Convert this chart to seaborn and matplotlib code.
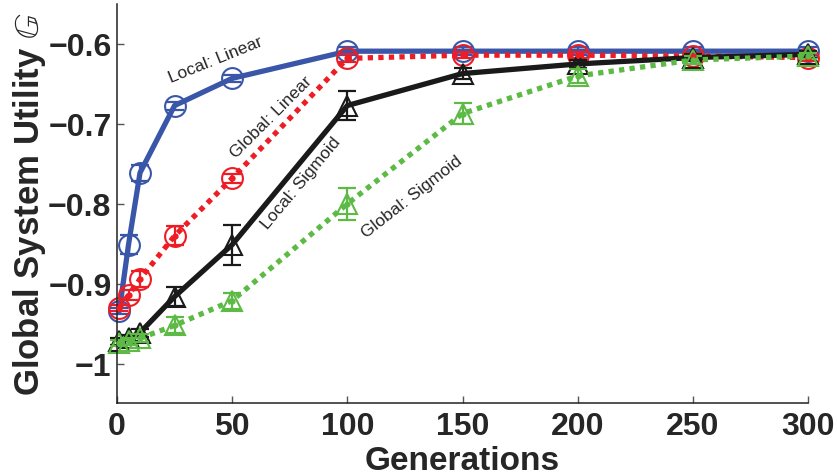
import numpy as np
import pandas as pd
import seaborn as sns
import matplotlib
matplotlib.use("Agg")
import matplotlib.pyplot as plt

generations = [1, 5, 10, 25, 50, 100, 150, 200, 250, 300]

local_linear = [-0.934, -0.851, -0.761, -0.677, -0.643, -0.609, -0.609, -0.609, -0.609, -0.609]
local_linear_err = [0.004, 0.012, 0.010, 0.005, 0.004, 0.005, 0.005, 0.005, 0.005, 0.005]

global_linear = [-0.93, -0.914, -0.894, -0.840, -0.768, -0.618, -0.614, -0.614, -0.615, -0.617]
global_linear_err = [0.004, 0.006, 0.010, 0.012, 0.006, 0.005, 0.004, 0.004, 0.004, 0.004]

local_sigmoid = [-0.972, -0.968, -0.961, -0.916, -0.851, -0.677, -0.637, -0.625, -0.617, -0.613]
local_sigmoid_err = [0.004, 0.004, 0.005, 0.012, 0.025, 0.018, 0.007, 0.005, 0.004, 0.004]

global_sigmoid = [-0.974, -0.972, -0.968, -0.952, -0.921, -0.800, -0.687, -0.640, -0.620, -0.615]
global_sigmoid_err = [0.004, 0.004, 0.005, 0.010, 0.010, 0.020, 0.013, 0.009, 0.005, 0.004]

x_ticks = [0, 50, 100, 150, 200, 250, 300]
y_ticks = [-1.0, -0.9, -0.8, -0.7, -0.6]
y_tick_labels = ["\u22121", "\u22120.9", "\u22120.8", "\u22120.7", "\u22120.6"]

series = [
    ("Local: Linear", local_linear, local_linear_err, "#3a56a8", "-", "o", False),
    ("Global: Linear", global_linear, global_linear_err, "#ee1c24", (0, (1, 1)), "o", True),
    ("Local: Sigmoid", local_sigmoid, local_sigmoid_err, "#1a1a1a", "-", "^", False),
    ("Global: Sigmoid", global_sigmoid, global_sigmoid_err, "#5dba45", (0, (1, 1)), "^", True),
]

sns.set_theme(style="ticks")
plt.rcParams["font.family"] = ["Liberation Sans", "DejaVu Sans"]
plt.rcParams["axes.unicode_minus"] = True
plt.rcParams["mathtext.fontset"] = "stix"

fig = plt.figure(figsize=(8.38, 4.77), dpi=100)
ax = fig.add_axes([117 / 838, 73 / 477, (808 - 117) / 838, 399 / 477])

draw_order = [3, 2, 1, 0]
for i in draw_order:
    name, vals, errs, col, ls, mk, dot = series[i]
    df = pd.DataFrame({"Generations": generations, "Utility": vals})
    ax.errorbar(generations, vals, yerr=errs, fmt="none", ecolor=col,
                elinewidth=1.6, capsize=6.5, capthick=1.6, zorder=2 + i * 0.1,
                clip_on=False)
    sns.lineplot(data=df, x="Generations", y="Utility", ax=ax, color=col,
                 linestyle=ls, linewidth=3.8, marker=mk, markersize=15,
                 markerfacecolor="none", markeredgecolor=col, markeredgewidth=1.5,
                 dash_capstyle="butt", zorder=2 + i * 0.1, clip_on=False)
    if dot:
        ax.plot(generations, vals, linestyle="none", marker=".", color=col,
                markersize=7, zorder=2.5 + i * 0.1, clip_on=False)

ax.set_xlim(0, 300)
ax.set_ylim(-1.049, -0.55)
ax.set_xticks(x_ticks)
ax.set_yticks(y_ticks)
ax.set_yticklabels(y_tick_labels)
ax.tick_params(direction="in", length=5, width=1, labelsize=23, color="#555555")
ax.tick_params(axis="x", pad=6)
ax.tick_params(axis="y", pad=4)
for lab in ax.get_xticklabels() + ax.get_yticklabels():
    lab.set_fontweight("bold")
ax.set_xlabel("Generations", fontsize=24, fontweight="bold", labelpad=3)
ax.set_ylabel("Global System Utility $\\mathbb{G}$", fontsize=25, fontweight="bold", labelpad=0)
sns.despine(ax=ax)
for sp in ax.spines.values():
    sp.set_linewidth(1.1)
    sp.set_color("#222222")
ax.grid(False)

ax.text(43, -0.619, "Local: Linear", rotation=22, fontsize=12.5, ha="center", va="center")
ax.text(67, -0.691, "Global: Linear", rotation=45, fontsize=12.5, ha="center", va="center")
ax.text(80, -0.7725, "Local: Sigmoid", rotation=50, fontsize=12.5, ha="center", va="center")
ax.text(128, -0.790, "Global: Sigmoid", rotation=38, fontsize=12.5, ha="center", va="center")

fig.savefig("out.png", dpi=100)
